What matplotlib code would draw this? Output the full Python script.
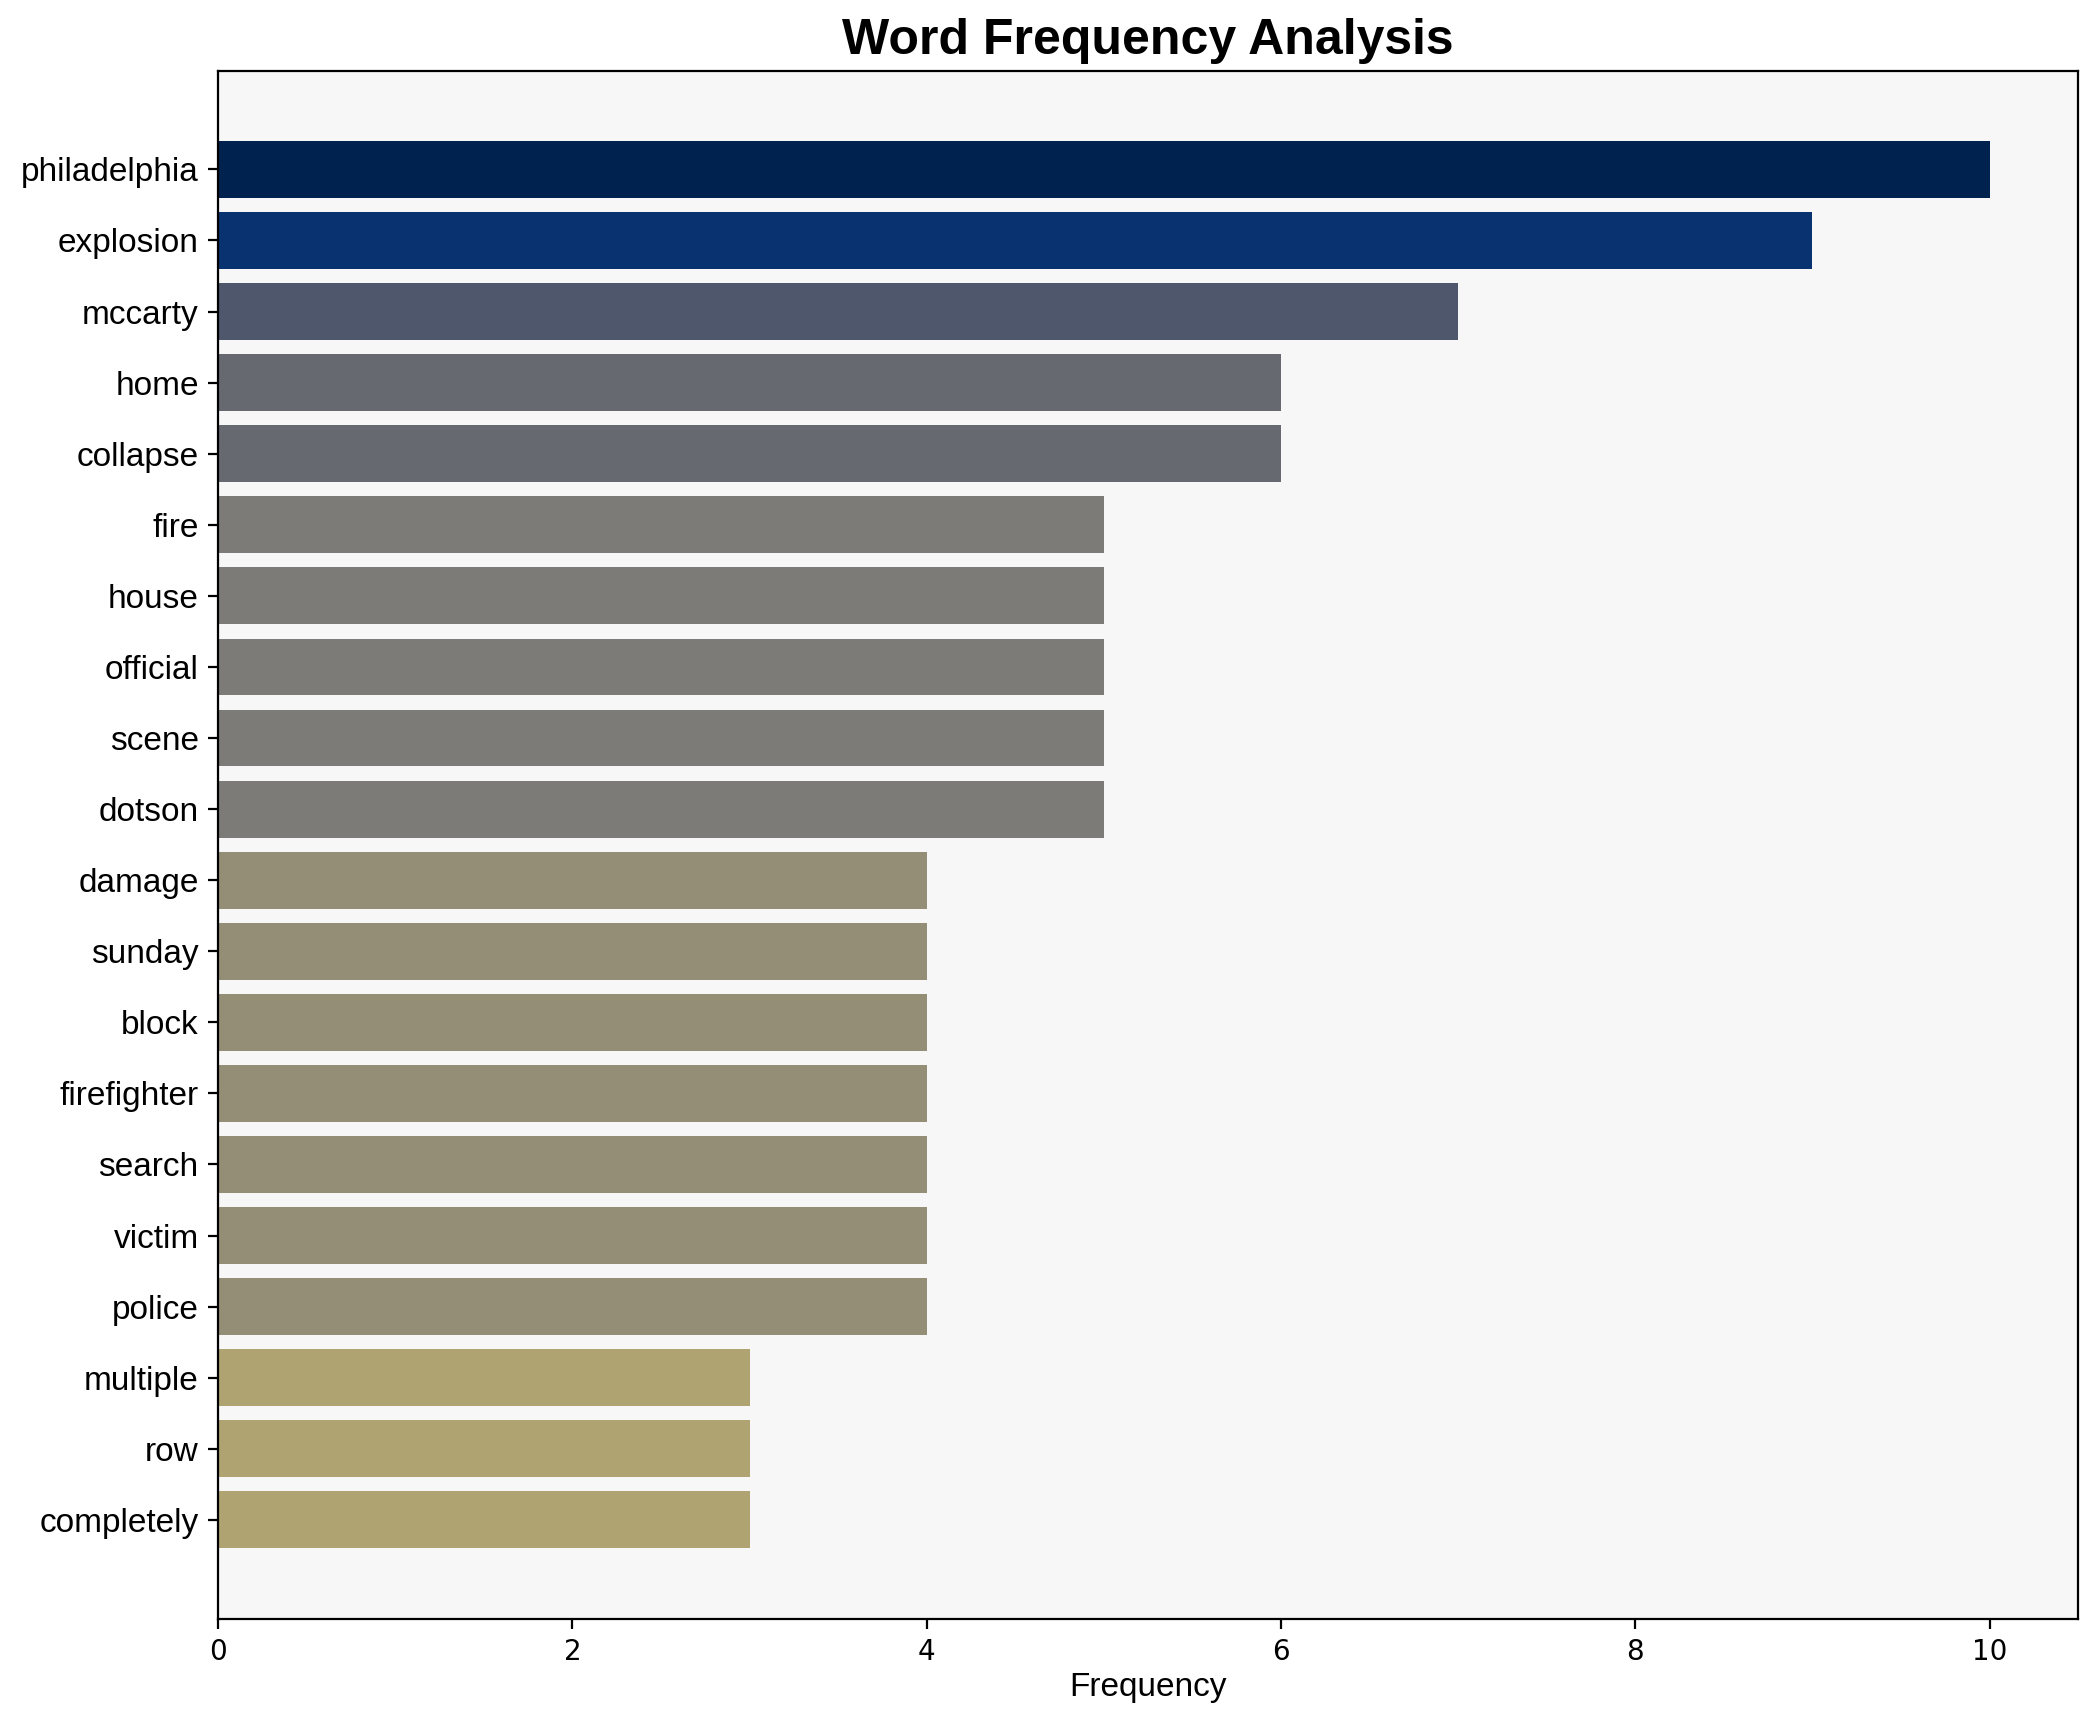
import matplotlib.pyplot as plt
import numpy as np

words = ["philadelphia", "explosion", "mccarty", "home", "collapse", "fire",
         "house", "official", "scene", "dotson", "damage", "sunday", "block",
         "firefighter", "search", "victim", "police", "multiple", "row",
         "completely"]
counts = [10, 9, 7, 6, 6, 5, 5, 5, 5, 5, 4, 4, 4, 4, 4, 4, 4, 3, 3, 3]

fig = plt.figure(figsize=(10.485, 8.61), dpi=200)
ax = fig.add_axes([0.104, 0.060, 0.887, 0.899])
ax.set_facecolor('#f7f7f7')

vals = np.array(counts)
colors = plt.cm.cividis_r(vals / vals.max())
y = np.arange(len(words))
ax.barh(y, vals, color=colors)
ax.set_yticks(y)
ax.set_yticklabels(words, fontsize=12, family='Liberation Sans')
ax.invert_yaxis()

ax.set_xlabel('Frequency', fontsize=12, family='Liberation Sans', labelpad=2)
ax.set_title('Word Frequency Analysis', fontsize=18, fontweight='bold',
             family='Liberation Sans')

fig.savefig('out.png', dpi=200)
